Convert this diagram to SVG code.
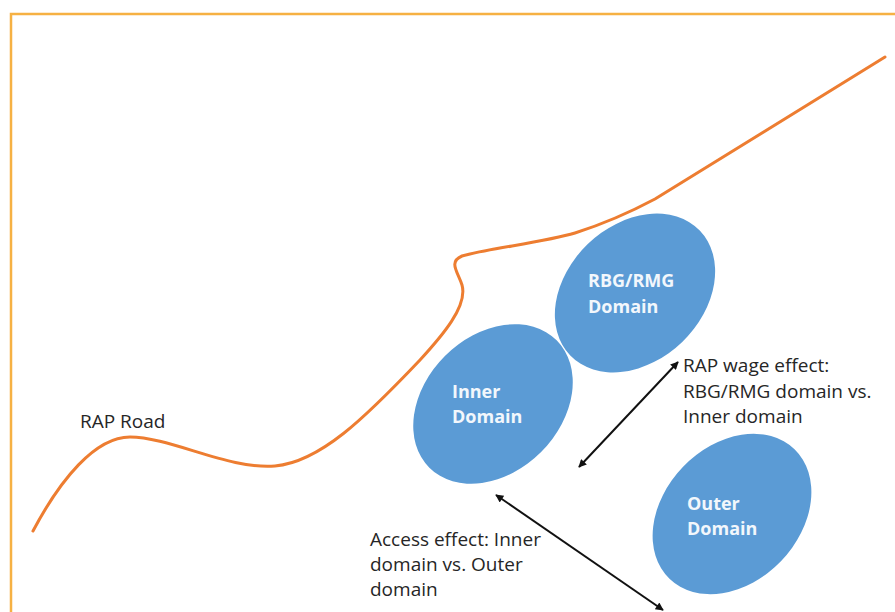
<svg xmlns="http://www.w3.org/2000/svg" width="895" height="612" viewBox="0 0 895 612">
<style>
.frame{stroke:#F6B143;stroke-width:2.5;fill:none}
.road{stroke:#ED7D31;stroke-width:3;fill:none;stroke-linecap:round;stroke-linejoin:round}
.dom{fill:#5B9BD5}
.dl{font-family:"Open Sans","Liberation Sans",sans-serif;font-weight:bold;font-size:18px;fill:#F2F7FC}
.lbl{font-family:"Open Sans","Liberation Sans",sans-serif;font-size:19px;fill:#262626}
.arr{stroke:#111;stroke-width:2;fill:none}
</style>
<defs>
<marker id="ah" viewBox="0 0 10 10" refX="9" refY="5" markerWidth="10" markerHeight="8" markerUnits="userSpaceOnUse" orient="auto-start-reverse">
<path d="M0,0 L10,5 L0,10 z" fill="#111"/>
</marker>
</defs>
<rect width="895" height="612" fill="#FFFFFF"/>
<g id="frame">
<path class="frame" d="M11,612 L11,14 L895,14"/>
</g>
<g id="rap-road">
<path class="road" d="M33,531 C60,480 95,437 130,437 C170,437 230,470 275,466 C320,462 365,418 420,360 C442,336 468,306 462,285 C458,272 448,262 462,256 C485,249 545,242 575,233 C600,225 625,215 655,199 L885,57"/>
<text class="lbl" x="80" y="428">RAP Road</text>
</g>
<g id="inner">
<ellipse class="dom" cx="493" cy="404" rx="90" ry="68" transform="rotate(-45 493 404)"/>
<text class="dl" x="452" y="398">Inner</text>
<text class="dl" x="452" y="423">Domain</text>
</g>
<g id="rbg">
<ellipse class="dom" cx="635" cy="293" rx="90" ry="68" transform="rotate(-44 635 293)"/>
<text class="dl" x="588" y="287">RBG/RMG</text>
<text class="dl" x="588" y="313">Domain</text>
</g>
<g id="outer">
<ellipse class="dom" cx="732" cy="514" rx="90" ry="68" transform="rotate(-46 732 514)"/>
<text class="dl" x="687" y="510">Outer</text>
<text class="dl" x="687" y="535">Domain</text>
</g>
<g id="connectors">
<line class="arr" x1="579" y1="467" x2="678" y2="362" marker-start="url(#ah)" marker-end="url(#ah)"/>
<line class="arr" x1="496" y1="495" x2="663" y2="610" marker-start="url(#ah)" marker-end="url(#ah)"/>
</g>
<g id="labels">
<text class="lbl" x="683" y="372">RAP wage effect:</text>
<text class="lbl" x="683" y="397.5">RBG/RMG domain vs.</text>
<text class="lbl" x="683" y="423">Inner domain</text>
<text class="lbl" x="370" y="546">Access effect: Inner</text>
<text class="lbl" x="370" y="571">domain vs. Outer</text>
<text class="lbl" x="370" y="596">domain</text>
</g>
</svg>
